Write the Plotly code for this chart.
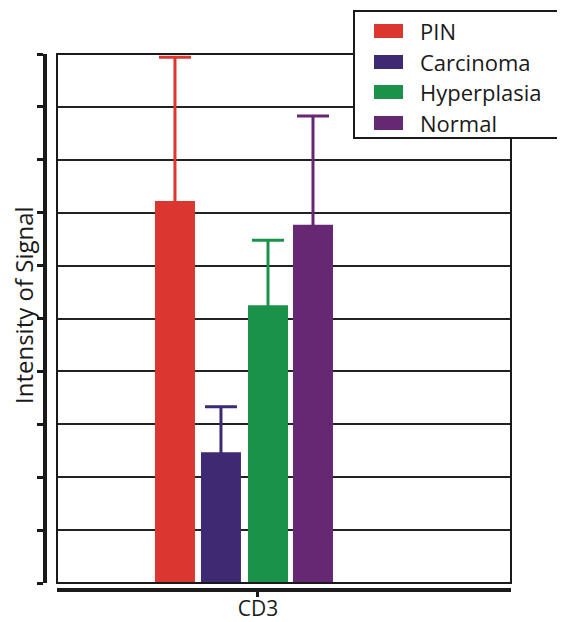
import plotly.graph_objects as go

# ---- data ----
categories = ["CD3"]
series_names = ["PIN", "Carcinoma", "Hyperplasia", "Normal"]
series_values = [7.22, 2.47, 5.25, 6.77]
series_errors = [2.72, 0.86, 1.23, 2.06]
series_colors = ["#DB3630", "#3D2A72", "#1B9249", "#672873"]
y_title = "Intensity of Signal"

# ---- geometry helpers (screen pixel -> paper); page body adds an 8px offset ----
OFF = 8
W, H = 565 - OFF, 622 - OFF
ML, MR, MT, MB = 37, 54, 46, 32
PW, PH = W - ML - MR, H - MT - MB


def px2x(px):
    return (px - OFF - ML) / PW


def py2y(py):
    return (H - MB - (py - OFF)) / PH


# bar placement (style): left offsets in category units, width
bar_offsets = [-0.2269, -0.1256, -0.0220, 0.0771]
bar_width = 0.0881

fig = go.Figure()
for name, val, err, col, off in zip(series_names, series_values, series_errors,
                                    series_colors, bar_offsets):
    # symmetric bars: the lower half falls inside the same-coloured bar and is hidden
    fig.add_trace(go.Bar(
        x=categories, y=[val], name=name,
        marker=dict(color=col, line=dict(width=0)),
        offset=off, width=bar_width,
        error_y=dict(type="data", symmetric=True, array=[err],
                     color=col, thickness=3, width=16),
        showlegend=False,
    ))

fig.update_layout(
    width=W, height=H,
    margin=dict(l=ML, r=MR, t=MT, b=MB, autoexpand=False),
    plot_bgcolor="white", paper_bgcolor="white",
    barmode="overlay",
    font=dict(family="Open Sans", color="#1a1a1a"),
    xaxis=dict(
        domain=[px2x(57), 1], anchor="free", position=0,
        type="category", range=[-0.4427, 0.5573], automargin=False,
        showline=True, linecolor="#1a1a1a", linewidth=4,
        ticks="outside", ticklen=5, tickwidth=3, tickcolor="#1a1a1a",
        ticklabelstandoff=-6,
        tickfont=dict(size=21, family="Open Sans", color="#1a1a1a"),
        showgrid=False, zeroline=False,
    ),
    yaxis=dict(
        domain=[py2y(583), 1], anchor="free", position=0,
        range=[0, 10], dtick=1, tick0=0, automargin=False,
        showline=True, linecolor="#1a1a1a", linewidth=4,
        ticks="outside", ticklen=6, tickwidth=3, tickcolor="#1a1a1a",
        showticklabels=False,
        showgrid=True, gridcolor="#222222", gridwidth=2,
        zeroline=False,
    ),
)

shapes = [
    dict(type="rect", xref="x domain", yref="y domain", x0=0, x1=1, y0=0, y1=1,
         line=dict(color="#1a1a1a", width=2), layer="above"),
    # legend box
    dict(type="rect", xref="paper", yref="paper",
         x0=px2x(354), x1=px2x(567), y0=py2y(138), y1=py2y(11),
         line=dict(color="#1a1a1a", width=2), fillcolor="white", layer="above"),
]
annotations = [
    dict(text=y_title, xref="paper", yref="paper", x=px2x(23), y=py2y(305),
         xanchor="center", yanchor="middle", textangle=-90, showarrow=False,
         font=dict(size=24, family="Open Sans", color="#1a1a1a")),
]
row_y = [31, 62, 92, 123]
for name, col, ry in zip(series_names, series_colors, row_y):
    shapes.append(dict(type="rect", xref="paper", yref="paper",
                       x0=px2x(374), x1=px2x(403), y0=py2y(ry + 7), y1=py2y(ry - 7),
                       line=dict(width=0), fillcolor=col, layer="above"))
    annotations.append(dict(text=name, xref="paper", yref="paper",
                            x=px2x(418), y=py2y(ry), xanchor="left", yanchor="middle",
                            showarrow=False,
                            font=dict(size=22, family="Open Sans", color="#1a1a1a")))

fig.update_layout(shapes=shapes, annotations=annotations)
fig.write_html("out.html")
